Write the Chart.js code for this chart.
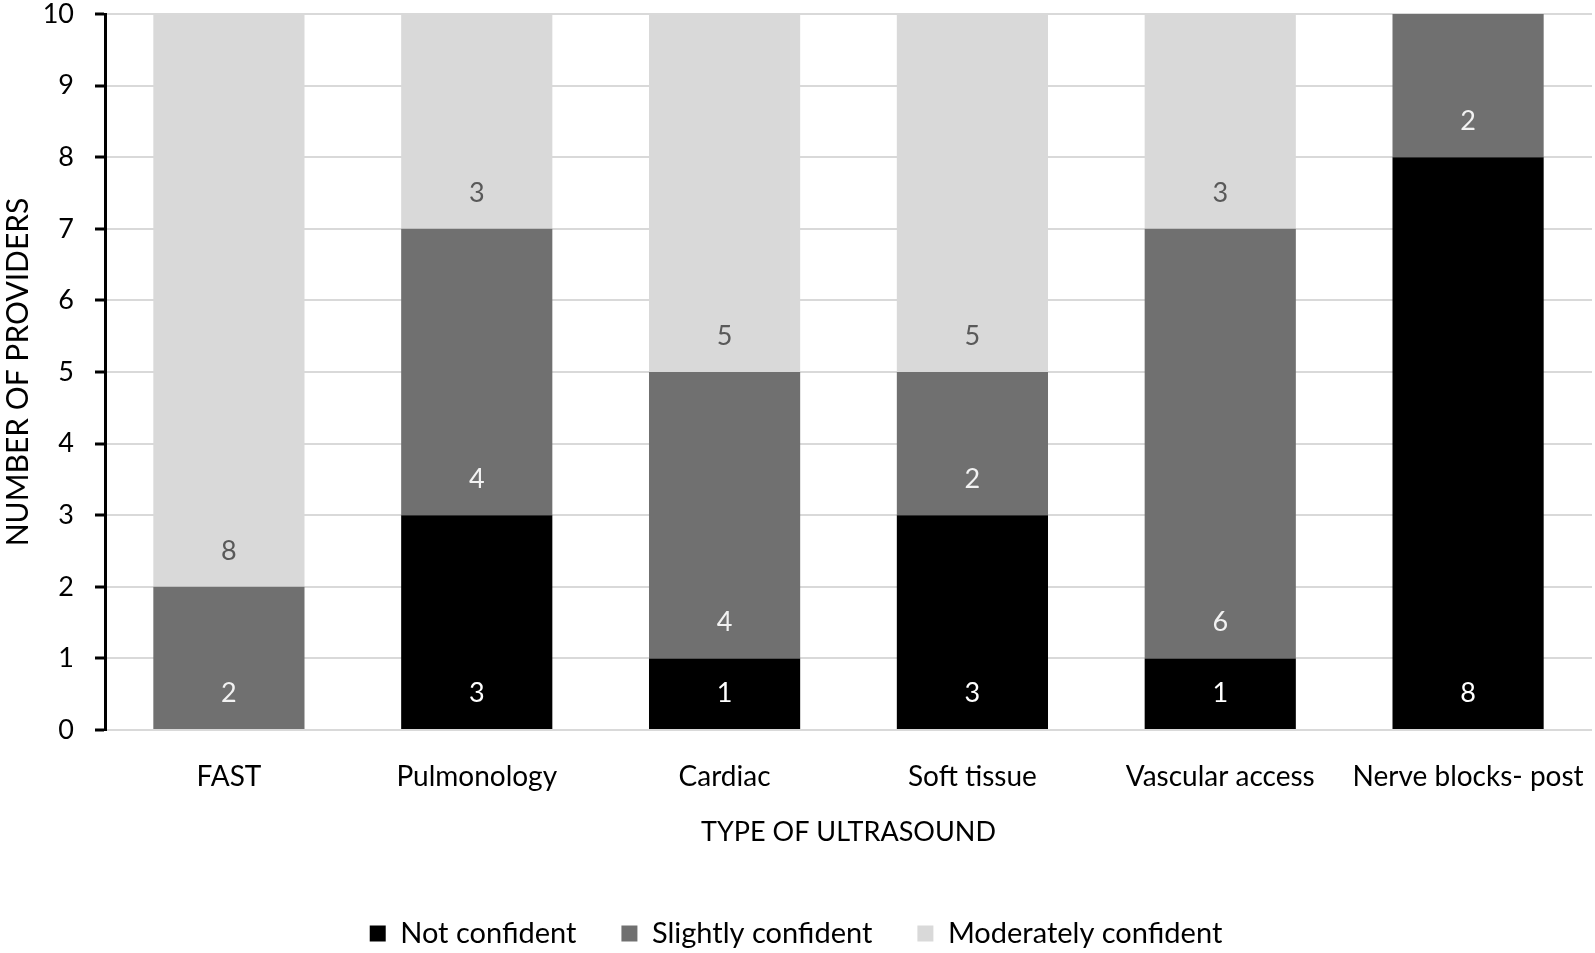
<!DOCTYPE html>
<html>
<head>
<meta charset="utf-8">
<script src="https://cdn.jsdelivr.net/npm/chart.js@4"></script>
<style>
  html, body { margin: 0; padding: 0; background: #fff; }
  #wrap { width: 1595px; height: 953px; }
</style>
</head>
<body>
<div id="wrap"><canvas id="chart"></canvas></div>
<script>
var categories = ["FAST", "Pulmonology", "Cardiac", "Soft tissue", "Vascular access", "Nerve blocks- post"];
var notConfident = [0, 3, 1, 3, 1, 8];
var slightlyConfident = [2, 4, 4, 2, 6, 2];
var moderatelyConfident = [8, 3, 5, 5, 3, 0];
var yTicks = [0, 1, 2, 3, 4, 5, 6, 7, 8, 9, 10];

var FONT = "Lato, 'Open Sans', sans-serif";

// value labels sit just above the base of each segment (half a unit up)
var segmentLabels = {
    id: 'segmentLabels',
    afterDatasetsDraw: function(chart) {
        var ctx = chart.ctx;
        var y = chart.scales.y;
        var half = y.getPixelForValue(0) - y.getPixelForValue(0.5);
        ctx.save();
        ctx.font = '27px ' + FONT;
        ctx.textAlign = 'center';
        ctx.textBaseline = 'middle';
        chart.data.datasets.forEach(function(ds, i) {
            var meta = chart.getDatasetMeta(i);
            meta.data.forEach(function(bar, j) {
                var v = ds.data[j];
                if (!v) return;
                ctx.fillStyle = ds.labelColor;
                ctx.fillText(v, bar.x, bar.base - half);
            });
        });
        ctx.restore();
    }
};

var ctx1 = document.getElementById("chart").getContext("2d");
var myChart = new Chart(ctx1, {
    type: 'bar',
    data: {
        labels: categories,
        datasets: [{
            label: 'Not confident',
            data: notConfident,
            backgroundColor: '#000000',
            labelColor: '#ffffff'
        }, {
            label: 'Slightly confident',
            data: slightlyConfident,
            backgroundColor: '#707070',
            labelColor: '#f2f2f2'
        }, {
            label: 'Moderately confident',
            data: moderatelyConfident,
            backgroundColor: '#d9d9d9',
            labelColor: '#595959'
        }]
    },
    options: {
        responsive: true,
        maintainAspectRatio: false,
        animation: false,
        layout: {
            padding: { left: 0, right: 3, top: 14, bottom: -5 }
        },
        barPercentage: 0.61,
        categoryPercentage: 1.0,
        scales: {
            x: {
                stacked: true,
                afterFit: function(scale) {
                    scale.paddingLeft = 0;
                    scale.paddingRight = 0;
                },
                grid: { display: false },
                border: { display: false },
                ticks: {
                    color: '#000',
                    padding: 22,
                    font: { family: FONT, size: 28 }
                },
                title: {
                    display: true,
                    text: 'TYPE OF ULTRASOUND',
                    color: '#000',
                    font: { family: FONT, size: 27 },
                    padding: { top: 0, bottom: 26 }
                }
            },
            y: {
                stacked: true,
                min: 0,
                max: 10,
                afterBuildTicks: function(scale) {
                    scale.ticks = yTicks.map(function(v) { return { value: v }; });
                },
                afterFit: function(scale) {
                    scale.width = 105;
                    scale.paddingTop = 0;
                    scale.paddingBottom = 0;
                },
                grid: {
                    color: '#d9d9d9',
                    lineWidth: 2,
                    tickColor: '#000',
                    tickLength: 10,
                    tickWidth: 3
                },
                border: { display: true, color: '#000', width: 3 },
                ticks: {
                    color: '#000',
                    padding: 21,
                    font: { family: FONT, size: 27 }
                },
                title: {
                    display: true,
                    text: 'NUMBER OF PROVIDERS',
                    color: '#000',
                    font: { family: FONT, size: 30 },
                    padding: { top: 0, bottom: 0 }
                }
            }
        },
        plugins: {
            legend: {
                display: true,
                position: 'bottom',
                labels: {
                    color: '#000',
                    boxWidth: 16,
                    boxHeight: 16,
                    padding: 45,
                    font: { family: FONT, size: 29 }
                }
            },
            tooltip: { enabled: false }
        }
    },
    plugins: [segmentLabels]
});
</script>
</body>
</html>
